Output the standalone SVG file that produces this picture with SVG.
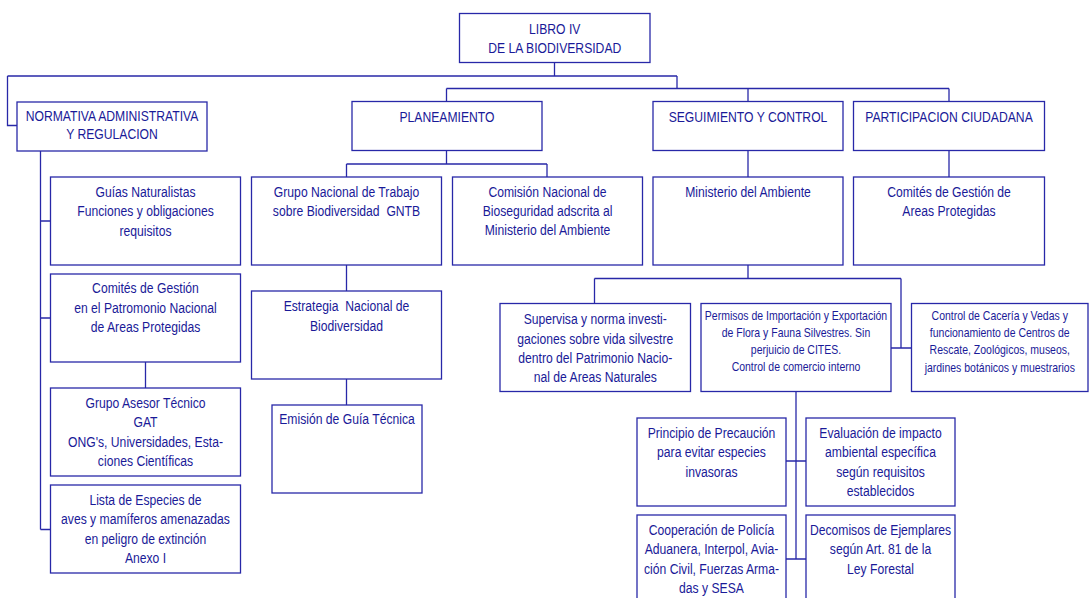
<svg xmlns="http://www.w3.org/2000/svg" width="1089" height="598" viewBox="0 0 1089 598">
<style>
rect{fill:#fff;stroke:#2828a8;stroke-width:1.3}
.c path{fill:none;stroke:#2828a8;stroke-width:1.3}
text{font-family:"Liberation Sans",Arial,sans-serif;font-size:15.3px;fill:#1a1a98;text-anchor:middle}
text.s{font-size:13.2px}
</style>
<rect x="0" y="0" width="1089" height="598" style="stroke:none"/>
<g class="c" id="connectors">
<path d="M554.5 62.5V76M7.5 76H677M7.5 76V125.5H17M677 76V88.5"/>
<path d="M446.5 88.5H949M446.5 88.5V101.5M748 88.5V101.5M949 88.5V101.5"/>
<path d="M40.5 151V529.5M40.5 221H50.5M40.5 318H50.5M40.5 529.5H50.5M145.5 362V388"/>
<path d="M446.5 150.5V164M346.5 164H547M346.5 164V177M547 164V177M346.5 265V291M346.5 379V405"/>
<path d="M748 150.5V177M949 150.5V177"/>
<path d="M748 265V278.5M594.5 278.5H901M594.5 278.5V303.5M901 278.5V348M891 348H911.5"/>
<path d="M796 391.5V559M786 461H806M786 559H806"/>
</g>
<g id="n-libro"><rect x="459.5" y="13.5" width="190.5" height="49"/>
<text transform="translate(554.75 0) scale(0.795 1)"><tspan x="0" y="34">LIBRO IV</tspan><tspan x="0" y="53">DE LA BIODIVERSIDAD</tspan></text></g>
<g id="n-normativa"><rect x="17" y="102" width="190" height="49"/>
<text transform="translate(112 0) scale(0.795 1)"><tspan x="0" y="121">NORMATIVA ADMINISTRATIVA</tspan><tspan x="0" y="139.5">Y REGULACION</tspan></text></g>
<g id="n-planeamiento"><rect x="352" y="101.5" width="190" height="49"/>
<text transform="translate(447 0) scale(0.795 1)"><tspan x="0" y="122">PLANEAMIENTO</tspan></text></g>
<g id="n-seguimiento"><rect x="653" y="101.5" width="190" height="49"/>
<text transform="translate(748 0) scale(0.795 1)"><tspan x="0" y="122">SEGUIMIENTO Y CONTROL</tspan></text></g>
<g id="n-participacion"><rect x="853.5" y="101.5" width="191" height="49"/>
<text transform="translate(949 0) scale(0.795 1)"><tspan x="0" y="122">PARTICIPACION CIUDADANA</tspan></text></g>
<g id="n-guias"><rect x="50.5" y="177" width="190" height="88"/>
<text transform="translate(145.5 0) scale(0.795 1)"><tspan x="0" y="197">Guías Naturalistas</tspan><tspan x="0" y="216.5">Funciones y obligaciones</tspan><tspan x="0" y="236">requisitos</tspan></text></g>
<g id="n-comites-pn"><rect x="50.5" y="274" width="190" height="88"/>
<text transform="translate(145.5 0) scale(0.795 1)"><tspan x="0" y="293.5">Comités de Gestión</tspan><tspan x="0" y="313">en el Patromonio Nacional</tspan><tspan x="0" y="332.5">de Areas Protegidas</tspan></text></g>
<g id="n-gat"><rect x="50.5" y="388" width="190" height="88"/>
<text transform="translate(145.5 0) scale(0.795 1)"><tspan x="0" y="408">Grupo Asesor Técnico</tspan><tspan x="0" y="427.5">GAT</tspan><tspan x="0" y="447">ONG's, Universidades, Esta-</tspan><tspan x="0" y="466">ciones Científicas</tspan></text></g>
<g id="n-lista"><rect x="50.5" y="485" width="190" height="88"/>
<text transform="translate(145.5 0) scale(0.795 1)"><tspan x="0" y="505">Lista de Especies de</tspan><tspan x="0" y="524.5">aves y mamíferos amenazadas</tspan><tspan x="0" y="544">en peligro de extinción</tspan><tspan x="0" y="563">Anexo I</tspan></text></g>
<g id="n-gntb"><rect x="251.5" y="177" width="190" height="88"/>
<text transform="translate(346.5 0) scale(0.795 1)"><tspan x="0" y="197">Grupo Nacional de Trabajo</tspan><tspan x="0" y="216">sobre Biodiversidad&#160; GNTB</tspan></text></g>
<g id="n-estrategia"><rect x="251.5" y="291" width="190" height="88"/>
<text transform="translate(346.5 0) scale(0.795 1)"><tspan x="0" y="311">Estrategia&#160; Nacional de</tspan><tspan x="0" y="331">Biodiversidad</tspan></text></g>
<g id="n-emision"><rect x="272" y="405" width="150" height="88"/>
<text transform="translate(347 0) scale(0.795 1)"><tspan x="0" y="424.5">Emisión de Guía Técnica</tspan></text></g>
<g id="n-comision"><rect x="452.5" y="177" width="190" height="88"/>
<text transform="translate(547.5 0) scale(0.795 1)"><tspan x="0" y="197.5">Comisión Nacional de</tspan><tspan x="0" y="216.5">Bioseguridad adscrita al</tspan><tspan x="0" y="235.5">Ministerio del Ambiente</tspan></text></g>
<g id="n-ministerio"><rect x="653" y="177" width="190" height="88"/>
<text transform="translate(748 0) scale(0.795 1)"><tspan x="0" y="197">Ministerio del Ambiente</tspan></text></g>
<g id="n-comites-ap"><rect x="853.5" y="177" width="191" height="88"/>
<text transform="translate(949 0) scale(0.795 1)"><tspan x="0" y="197">Comités de Gestión de</tspan><tspan x="0" y="216">Areas Protegidas</tspan></text></g>
<g id="n-supervisa"><rect x="500" y="303.5" width="190.5" height="88"/>
<text transform="translate(595.25 0) scale(0.795 1)"><tspan x="0" y="324.5">Supervisa y norma investi-</tspan><tspan x="0" y="344">gaciones sobre vida silvestre</tspan><tspan x="0" y="363.5">dentro del Patrimonio Nacio-</tspan><tspan x="0" y="382">nal de Areas Naturales</tspan></text></g>
<g id="n-permisos"><rect x="701" y="303.5" width="190" height="88"/>
<text class="s" transform="translate(796 0) scale(0.795 1)"><tspan x="0" y="320.5">Permisos de Importación y Exportación</tspan><tspan x="0" y="337.5">de Flora y Fauna Silvestres. Sin</tspan><tspan x="0" y="354">perjuicio de CITES.</tspan><tspan x="0" y="371">Control de comercio interno</tspan></text></g>
<g id="n-control"><rect x="911.5" y="303.5" width="176.5" height="88"/>
<text class="s" transform="translate(999.75 0) scale(0.795 1)"><tspan x="0" y="320">Control de Cacería y Vedas y</tspan><tspan x="0" y="337.5">funcionamiento de Centros de</tspan><tspan x="0" y="354.5">Rescate, Zoológicos, museos,</tspan><tspan x="0" y="372">jardines botánicos y muestrarios</tspan></text></g>
<g id="n-principio"><rect x="637" y="418" width="149" height="88"/>
<text transform="translate(711.5 0) scale(0.795 1)"><tspan x="0" y="438.5">Principio de Precaución</tspan><tspan x="0" y="457.5">para evitar especies</tspan><tspan x="0" y="477">invasoras</tspan></text></g>
<g id="n-evaluacion"><rect x="806" y="418" width="149" height="88"/>
<text transform="translate(880.5 0) scale(0.795 1)"><tspan x="0" y="438.5">Evaluación de impacto</tspan><tspan x="0" y="457.5">ambiental específica</tspan><tspan x="0" y="477">según requisitos</tspan><tspan x="0" y="496">establecidos</tspan></text></g>
<g id="n-cooperacion"><rect x="637" y="515" width="149" height="92"/>
<text transform="translate(711.5 0) scale(0.795 1)"><tspan x="0" y="535.5">Cooperación de Policía</tspan><tspan x="0" y="554.5">Aduanera, Interpol, Avia-</tspan><tspan x="0" y="574">ción Civil, Fuerzas Arma-</tspan><tspan x="0" y="593.5">das y SESA</tspan></text></g>
<g id="n-decomisos"><rect x="806" y="515" width="149" height="92"/>
<text transform="translate(880.5 0) scale(0.795 1)"><tspan x="0" y="535.5">Decomisos de Ejemplares</tspan><tspan x="0" y="554.5">según Art. 81 de la</tspan><tspan x="0" y="574">Ley Forestal</tspan></text></g>
</svg>
